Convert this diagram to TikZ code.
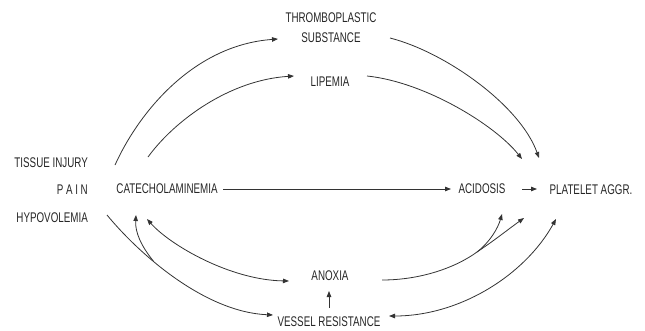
\documentclass[tikz,border=0pt]{standalone}
\usepackage{fontspec}
\setmainfont{Liberation Sans}[FakeStretch=0.7]
\usetikzlibrary{arrows.meta}
\begin{document}
\begin{tikzpicture}[x=1pt,y=-1pt,
  lbl/.style={inner sep=0pt,font=\fontsize{14}{20}\selectfont,text=black!85},
  conn/.style={draw=black!80,line width=0.8pt,-{Triangle[length=6pt,width=4.5pt]}},
  dconn/.style={draw=black!80,line width=0.8pt,{Triangle[length=6pt,width=4.5pt]}-{Triangle[length=6pt,width=4.5pt]}},
  plain/.style={draw=black!80,line width=0.8pt}]
\useasboundingbox (0,0) rectangle (645,330);
% nodes
\node[lbl,align=center] (thromb) at (331,28) {THROMBOPLASTIC\\SUBSTANCE};
\node[lbl] (lip) at (330,82) {LIPEMIA};
\node[lbl,anchor=east] (tissue) at (88,163) {TISSUE INJURY};
\node[lbl,anchor=east] (pain) at (88,190) {P A I N};
\node[lbl,anchor=east] (hypo) at (88,218) {HYPOVOLEMIA};
\node[lbl] (cat) at (167,189) {CATECHOLAMINEMIA};
\node[lbl] (acid) at (482,189) {ACIDOSIS};
\node[lbl] (plat) at (591,190) {PLATELET AGGR.};
\node[lbl] (anox) at (330,276) {ANOXIA};
\node[lbl] (vessel) at (329,322) {VESSEL RESISTANCE};
% connector end points
\coordinate (tissueOut) at (115,165);
\coordinate (thrombIn) at (278,39);
\coordinate (catUp) at (148,157);
\coordinate (lipIn) at (294,76);
\coordinate (thrombOut) at (390,38);
\coordinate (platInA) at (539,158);
\coordinate (lipOut) at (367,76);
\coordinate (platInB) at (522,159);
\coordinate (hypoOut) at (107,215);
\coordinate (vesselInL) at (273,315);
\coordinate (catInA) at (136,215);
\coordinate (catInB) at (147,219);
\coordinate (anoxInL) at (289,281);
\coordinate (anoxOut) at (382,280);
\coordinate (anoxBr) at (477,252);
\coordinate (acidIn) at (502,214);
\coordinate (platInC) at (524,218);
\coordinate (platInD) at (556,219);
\coordinate (vesselInR) at (389,316);
\coordinate (vesselUp) at (329,308);
\coordinate (anoxIn) at (329,291);
\coordinate (catOut) at (223,189);
\coordinate (acidInL) at (451,189);
\coordinate (acidOut) at (522,189);
\coordinate (platInL) at (537,189);
% connectors
\draw[conn] (tissueOut) .. controls (140,110) and (195,45) .. (thrombIn);
\draw[conn] (catUp) .. controls (175,120) and (230,80) .. (lipIn);
\draw[conn] (catOut) -- (acidInL);
\draw[conn] (thrombOut) .. controls (445,52) and (520,105) .. (platInA);
\draw[conn] (lipOut) .. controls (425,82) and (495,125) .. (platInB);
\draw[conn] (hypoOut) .. controls (140,255) and (205,312) .. coordinate[pos=0.36] (hypoBr) (vesselInL);
\draw[conn] (hypoBr) .. controls (141,246) and (135,232) .. (catInA);
\draw[dconn] (catInB) .. controls (170,245) and (230,280) .. (anoxInL);
\draw[plain] (anoxOut) .. controls (420,280) and (455,268) .. (anoxBr);
\draw[conn] (anoxBr) .. controls (490,242) and (498,228) .. (acidIn);
\draw[conn] (anoxBr) .. controls (495,240) and (510,228) .. (platInC);
\draw[dconn] (vesselInR) .. controls (460,316) and (525,275) .. (platInD);
\draw[conn] (vesselUp) -- (anoxIn);
\draw[conn] (acidOut) -- (platInL);
\end{tikzpicture}
\end{document}
